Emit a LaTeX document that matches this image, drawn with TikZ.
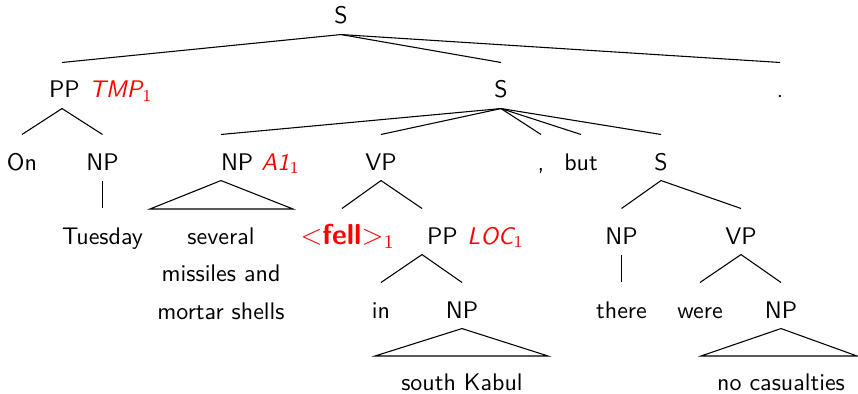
\documentclass[tikz,border=0pt]{standalone}
\newcommand{\offtext}[2]{\makebox[0pt][l]{\hspace{#1}#2}}
\begin{document}
\begin{tikzpicture}[x=0.4167pt,y=-0.4167pt,
  lbl/.style={font=\sffamily, anchor=base, inner sep=0pt, text height=7pt, text depth=0pt},
  ann/.style={font=\sffamily\itshape, text=red, anchor=base west, inner sep=0pt},
  multi/.style={font=\sffamily\fontsize{10}{15.6}\selectfont, align=center, anchor=base, inner sep=0pt},
  tline/.style={line width=0.45pt}]
\newcommand{\tredge}[2]{\draw[tline] ([yshift=-4.2pt]#1.south) -- ([yshift=7.6pt]#2.north);}
\newcommand{\trtri}[3]{\draw[tline] ([yshift=-4.2pt]#1.south) -- (#2) -- (#3) -- cycle;}
\useasboundingbox (0,0) rectangle (858,393);
% level 1
\node[lbl] (s0) at (341,24) {S};
% level 2
\node[lbl] (pp1) at (62,98) {\offtext{-5.4pt}{PP}};
\node[ann] (tmp) at (89,98) {TMP$_1$};
\node[lbl] (s1) at (501,98) {S};
\node[lbl] (dot) at (780,98) {.};
% level 3
\node[lbl] (on) at (22,170) {On};
\node[lbl] (npt) at (102.5,170) {NP};
\node[lbl] (npa) at (221,170) {\offtext{0pt}{NP}};
\node[ann] (a1) at (261,170) {A1$_1$};
\node[lbl] (vp1) at (381,170) {VP};
\node[lbl] (comma) at (541,170) {,};
\node[lbl] (but) at (581,170) {but};
\node[lbl] (s2) at (661,170) {S};
% level 4
\node[lbl] (tue) at (102.5,244) {Tuesday};
\node[multi] (sev) at (221,319) {several\\missiles and\\mortar shells};
\node[lbl, text=red, font=\sffamily\large\bfseries] (fell) at (342,244) {\llap{$<$}fell\rlap{$>_1$}};
\node[lbl] (pp2) at (422,244) {\offtext{2.1pt}{PP}};
\node[ann] (loc) at (467,244) {LOC$_1$};
\node[lbl] (np2) at (621.5,244) {NP};
\node[lbl] (vp2) at (741,244) {VP};
% level 5
\node[lbl] (in) at (381,318) {in};
\node[lbl] (npk) at (462,318) {NP};
\node[lbl] (there) at (621.5,318) {there};
\node[lbl] (were) at (700,318) {were};
\node[lbl] (npc) at (781,318) {NP};
% level 6
\node[lbl] (kabul) at (462,390.5) {south Kabul};
\node[lbl] (cas) at (781,390.5) {no casualties};
% triangle corners
\coordinate (ta1) at (150,209);
\coordinate (ta2) at (293,209);
\coordinate (tk1) at (375,356);
\coordinate (tk2) at (548,356);
\coordinate (tc1) at (701,356);
\coordinate (tc2) at (857,356);
% edges
\tredge{s0}{pp1}
\tredge{s0}{s1}
\tredge{s0}{dot}
\tredge{pp1}{on}
\tredge{pp1}{npt}
\tredge{s1}{npa}
\tredge{s1}{vp1}
\tredge{s1}{comma}
\tredge{s1}{but}
\tredge{s1}{s2}
\tredge{npt}{tue}
\trtri{npa}{ta1}{ta2}
\tredge{vp1}{fell}
\tredge{vp1}{pp2}
\tredge{s2}{np2}
\tredge{s2}{vp2}
\tredge{pp2}{in}
\tredge{pp2}{npk}
\tredge{np2}{there}
\tredge{vp2}{were}
\tredge{vp2}{npc}
\trtri{npk}{tk1}{tk2}
\trtri{npc}{tc1}{tc2}
\end{tikzpicture}
\end{document}
